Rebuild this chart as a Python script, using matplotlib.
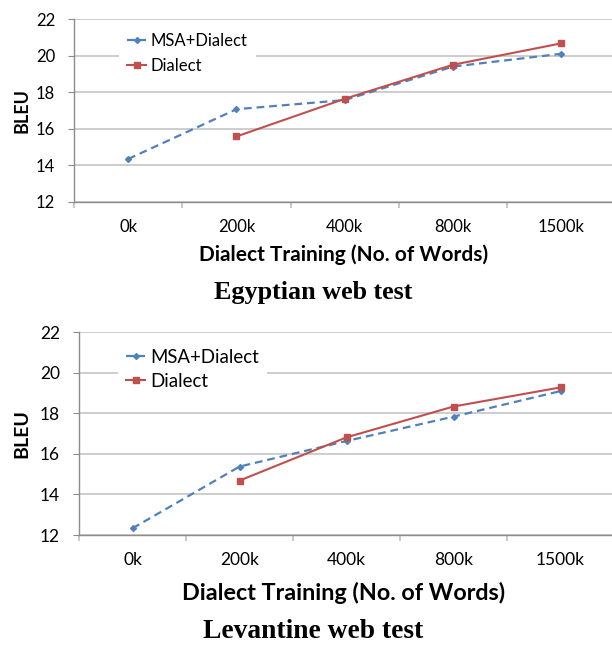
import matplotlib
matplotlib.use("Agg")
import matplotlib.pyplot as plt
import numpy as np

categories = ["0k", "200k", "400k", "800k", "1500k"]
egy_msa = [14.35, 17.07, 17.57, 19.4, 20.1]
egy_dialect = [None, 15.58, 17.64, 19.5, 20.67]
lev_msa = [12.33, 15.37, 16.63, 17.83, 19.09]
lev_dialect = [None, 14.68, 16.81, 18.33, 19.27]
titles = ["Egyptian web test", "Levantine web test"]
yticks = [12, 14, 16, 18, 20, 22]
xlabel = "Dialect Training (No. of Words)"
ylabel = "BLEU"
series_names = ["MSA+Dialect", "Dialect"]

W, H = 612, 645
fig = plt.figure(figsize=(W/100, H/100), dpi=100)
sans = ["Lato", "DejaVu Sans"]
serif = ["Liberation Serif", "DejaVu Serif"]
blue = "#4F81BD"
red = "#C0504D"
gridc = "#C0C0C0"
axisc = "#8C8C8C"

def px(v):
    return v * 72 / 100.0

def make(rect_px, msa, dia, title, title_y, xlabel_y, xlabel_fs, title_fs,
         tick_fs, ylab_fs, leg_anchor, leg_fs, leg_spacing):
    l, t, r, b = rect_px
    ax = fig.add_axes([l/W, 1-b/H, (r-l)/W, (b-t)/H])
    x = np.arange(len(categories))
    ax.plot(x, msa, color=blue, ls=(0, (3.5, 2.2)), lw=1.6, marker="D", ms=3,
            label=series_names[0], clip_on=False, zorder=3)
    xd = [i for i, v in enumerate(dia) if v is not None]
    yd = [v for v in dia if v is not None]
    ax.plot(xd, yd, color=red, ls="-", lw=1.5, marker="s", ms=4.8,
            label=series_names[1], clip_on=False, zorder=4)
    ax.set_xlim(-0.5, len(categories) - 0.5)
    ax.set_ylim(12, 22)
    ax.set_yticks(yticks)
    ax.set_yticklabels([str(v) for v in yticks], fontsize=tick_fs, family=sans)
    ax.yaxis.grid(True, color=gridc, lw=1.1)
    ax.set_axisbelow(True)
    for s in ["top", "right"]:
        ax.spines[s].set_visible(False)
    ax.spines["left"].set_color(axisc)
    ax.spines["bottom"].set_color(axisc)
    ax.spines["left"].set_linewidth(1)
    ax.spines["bottom"].set_linewidth(1)
    ax.set_xticks(x)
    ax.set_xticklabels(categories, fontsize=tick_fs, family=sans)
    ax.tick_params(axis="x", which="major", length=0, pad=px(17))
    ax.set_xticks(np.arange(-0.5, len(categories), 1.0), minor=True)
    ax.tick_params(axis="x", which="minor", length=px(6), color=gridc,
                   width=1.2, direction="out")
    ax.tick_params(axis="y", length=px(6), color=axisc, pad=px(13))
    fig.text(22/W, 1-((t+b)/2)/H, ylabel, rotation=90, ha="center", va="center",
             fontsize=ylab_fs, fontweight="bold", family=sans)
    fig.text(344/W, 1-xlabel_y/H, xlabel, ha="center", va="center",
             fontsize=xlabel_fs, fontweight="bold", family=sans)
    fig.text(313/W, 1-title_y/H, title, ha="center", va="center",
             fontsize=title_fs, fontweight="bold", family=serif)
    lx, ly = leg_anchor
    fs_px = leg_fs * 100 / 72
    ax.legend(loc="upper left", bbox_to_anchor=((lx-l)/(r-l), (b-ly)/(b-t)),
              frameon=True, fancybox=False, edgecolor="none", facecolor="white",
              framealpha=1, prop={"family": sans, "size": leg_fs},
              handlelength=19/fs_px, handletextpad=5/fs_px,
              labelspacing=leg_spacing, borderpad=8/fs_px, borderaxespad=0)
    return ax

make((74, 19, 615.5, 202), egy_msa, egy_dialect, titles[0], 292, 255,
     15, 18.8, 12, 13, (119, 25), 12, 0.55)
make((79, 332, 614, 535), lev_msa, lev_dialect, titles[1], 632, 593,
     16.8, 19.8, 12.5, 14, (118, 341), 13.4, 0.35)

fig.savefig("out.png", dpi=100)
